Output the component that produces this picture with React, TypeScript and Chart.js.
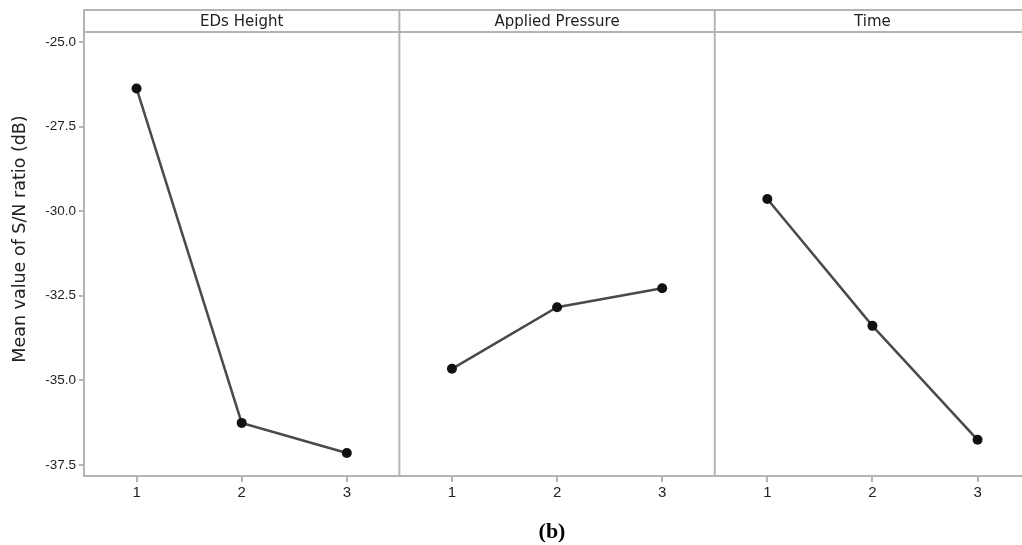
import React, { useEffect, useRef } from "react";
import { Chart, registerables } from "chart.js";

Chart.register(...registerables);

// ---- data ----
const factors = ["EDs Height", "Applied Pressure", "Time"];
const levels = ["1", "2", "3"];
const edsHeight = [-26.37, -36.26, -37.15];
const appliedPressure = [-34.66, -32.84, -32.28];
const timeValues = [-29.64, -33.39, -36.76];
const yTicks = [-37.5, -35.0, -32.5, -30.0, -27.5, -25.0];
const yTitle = "Mean value of S/N ratio (dB)";
const caption = "(b)";

const seriesList = [edsHeight, appliedPressure, timeValues];
const xPositions = seriesList.flatMap((_, p) => levels.map((_, i) => p * levels.length + i + 1));
const panelBounds = [3.5, 6.5];

const GRID = "#b4b4b4";
const TEXT = "#222222";

const facetPlugin = {
  id: "facetStrip",
  afterDraw(chart: any) {
    const { ctx, chartArea, scales, width } = chart;
    const { left, top, bottom } = chartArea;
    const x = scales.x;
    const stripTop = top - 22;
    ctx.save();
    ctx.strokeStyle = GRID;
    ctx.lineWidth = 2;
    ctx.beginPath();
    ctx.moveTo(left - 1, stripTop);
    ctx.lineTo(width, stripTop);
    ctx.moveTo(left - 1, top);
    ctx.lineTo(width, top);
    ctx.moveTo(left, stripTop);
    ctx.lineTo(left, top);
    panelBounds.forEach((b) => {
      const px = x.getPixelForValue(b);
      ctx.moveTo(px, stripTop);
      ctx.lineTo(px, bottom);
    });
    ctx.moveTo(chartArea.right, bottom);
    ctx.lineTo(width, bottom);
    ctx.stroke();

    ctx.fillStyle = TEXT;
    ctx.font = "15px 'DejaVu Sans'";
    ctx.textAlign = "center";
    ctx.textBaseline = "middle";
    factors.forEach((f, i) => {
      const cx = x.getPixelForValue(i * levels.length + 2);
      ctx.fillText(f, cx, (stripTop + top) / 2 + 1);
    });

    ctx.translate(20, 239);
    ctx.rotate(-Math.PI / 2);
    ctx.font = "17.5px 'DejaVu Sans'";
    ctx.fillText(yTitle, 0, 0);
    ctx.restore();
  },
};

export default function App() {
  const ref = useRef<HTMLCanvasElement | null>(null);

  useEffect(() => {
    if (!ref.current) return;
    const datasets = seriesList.map((vals, p) => ({
      label: factors[p],
      data: vals.map((v, i) => ({ x: p * levels.length + i + 1, y: v })),
      borderColor: "#4a4a4a",
      borderWidth: 2.5,
      pointRadius: 5,
      pointHoverRadius: 5,
      pointBackgroundColor: "#111111",
      pointBorderColor: "#111111",
      pointBorderWidth: 0,
      tension: 0,
      clip: false as any,
    }));

    const chart = new Chart(ref.current, {
      type: "line",
      data: { datasets },
      plugins: [facetPlugin],
      options: {
        animation: false,
        responsive: false,
        layout: { padding: { top: 32, left: 0, right: 0, bottom: 0 } },
        plugins: {
          legend: { display: false },
          tooltip: { enabled: false },
          title: { display: false },
        },
        scales: {
          x: {
            type: "linear",
            min: 0.5,
            max: 9.375,
            afterBuildTicks: (s: any) => {
              s.ticks = xPositions.map((v) => ({ value: v }));
            },
            afterFit: (s: any) => {
              s.height = 69;
            },
            ticks: {
              autoSkip: false,
              maxRotation: 0,
              padding: 2,
              color: TEXT,
              font: { family: "'Liberation Sans'", size: 15 },
              callback: (v: any) => levels[(Math.round(Number(v)) - 1) % levels.length],
            },
            grid: { drawOnChartArea: false, tickLength: 6, color: GRID, lineWidth: 2 },
            border: { color: GRID, width: 2 },
          },
          y: {
            type: "linear",
            min: -37.83,
            max: -24.7,
            afterBuildTicks: (s: any) => {
              s.ticks = yTicks.map((v) => ({ value: v }));
            },
            afterFit: (s: any) => {
              s.width = 84;
            },
            ticks: {
              padding: 3,
              color: TEXT,
              font: { family: "'Liberation Sans'", size: 13.5 },
              callback: (v: any) => Number(v).toFixed(1),
            },
            grid: { drawOnChartArea: false, tickLength: 5, color: GRID, lineWidth: 2 },
            border: { color: GRID, width: 2 },
          },
        },
      },
    });
    return () => chart.destroy();
  }, []);

  return (
    <div style={{ position: "absolute", left: 0, top: 0, width: 1022, height: 545, background: "#fff" }}>
      <canvas ref={ref} width={1022} height={545} style={{ display: "block" }} />
      <div
        style={{
          position: "absolute",
          left: 552,
          top: 520,
          transform: "translateX(-50%)",
          font: "bold 22px 'Liberation Serif'",
          lineHeight: "22px",
          color: "#000",
        }}
      >
        {caption}
      </div>
    </div>
  );
}
